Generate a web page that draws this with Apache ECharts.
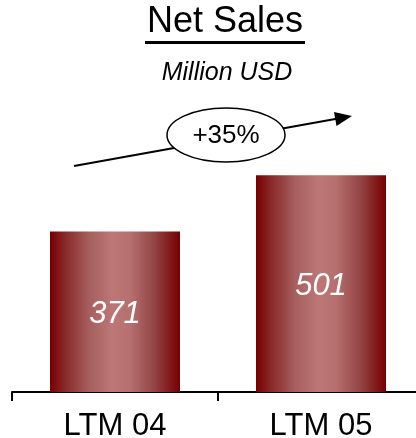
<!DOCTYPE html>
<html>
<head>
<meta charset="utf-8">
<script src="https://cdn.jsdelivr.net/npm/echarts@6/dist/echarts.min.js"></script>
<style>
  html, body { margin: 0; padding: 0; background: #fff; }
  #chart { width: 416px; height: 438px; }
</style>
</head>
<body>
<div id="chart"></div>
<script>
const categories = ['LTM 04', 'LTM 05']
const netSales = [371, 501]
const growthLabel = '+35%'

const FONT = '"Liberation Sans", Arial, sans-serif'

const chart = echarts.init(document.getElementById('chart'))

// bar fill: dark maroon edges, pale rose middle
const barFill = new echarts.graphic.LinearGradient(0, 0, 1, 0, [
  { offset: 0, color: '#760000' },
  { offset: 0.12, color: '#8a2a2a' },
  { offset: 0.3, color: '#a65e5e' },
  { offset: 0.48, color: '#bd7776' },
  { offset: 0.62, color: '#b56f6e' },
  { offset: 0.8, color: '#934545' },
  { offset: 1, color: '#760000' },
])

chart.setOption({
  animation: false,
  grid: { left: 12, width: 412, top: 89, bottom: 46, outerBoundsMode: 'none', containLabel: false },
  xAxis: {
    type: 'category',
    data: categories,
    axisLine: { lineStyle: { color: '#000', width: 2 } },
    axisTick: { show: true, length: 9, lineStyle: { color: '#000', width: 2 } },
    axisLabel: { color: '#000', fontSize: 31, fontFamily: FONT, margin: 19 },
  },
  yAxis: {
    type: 'value',
    min: 0,
    max: 700,
    show: false,
    splitLine: { show: false },
  },
  series: [{
    type: 'bar',
    data: netSales,
    barWidth: 130,
    itemStyle: { color: barFill },
    label: {
      show: true,
      position: 'inside',
      offset: [0, 3],
      color: '#fff',
      fontSize: 31,
      fontStyle: 'italic',
      fontFamily: FONT,
    },
  }],
  graphic: [
    {
      type: 'text', x: 225, y: 22,
      style: { text: 'Net Sales', font: '36px ' + FONT, fill: '#000', align: 'center', verticalAlign: 'middle' },
    },
    { type: 'rect', shape: { x: 145, y: 41, width: 160, height: 3 }, style: { fill: '#000' } },
    {
      type: 'text', x: 227, y: 73,
      style: { text: 'Million USD', font: 'italic 25px ' + FONT, fill: '#000', align: 'center', verticalAlign: 'middle' },
    },
    {
      type: 'line', z: 10,
      shape: { x1: 74, y1: 166, x2: 338, y2: 118.5 },
      style: { stroke: '#000', lineWidth: 2 },
    },
    {
      type: 'polygon', z: 10,
      shape: { points: [[352, 116], [336.5, 126], [334, 112]] },
      style: { fill: '#000' },
    },
    {
      type: 'ellipse', z: 11,
      shape: { cx: 226, cy: 135, rx: 59, ry: 27 },
      style: { fill: '#fff', stroke: '#000', lineWidth: 1.5 },
    },
    {
      type: 'text', z: 12, x: 226, y: 136,
      style: { text: growthLabel, font: '26px ' + FONT, fill: '#000', align: 'center', verticalAlign: 'middle' },
    },
  ],
})
</script>
</body>
</html>
